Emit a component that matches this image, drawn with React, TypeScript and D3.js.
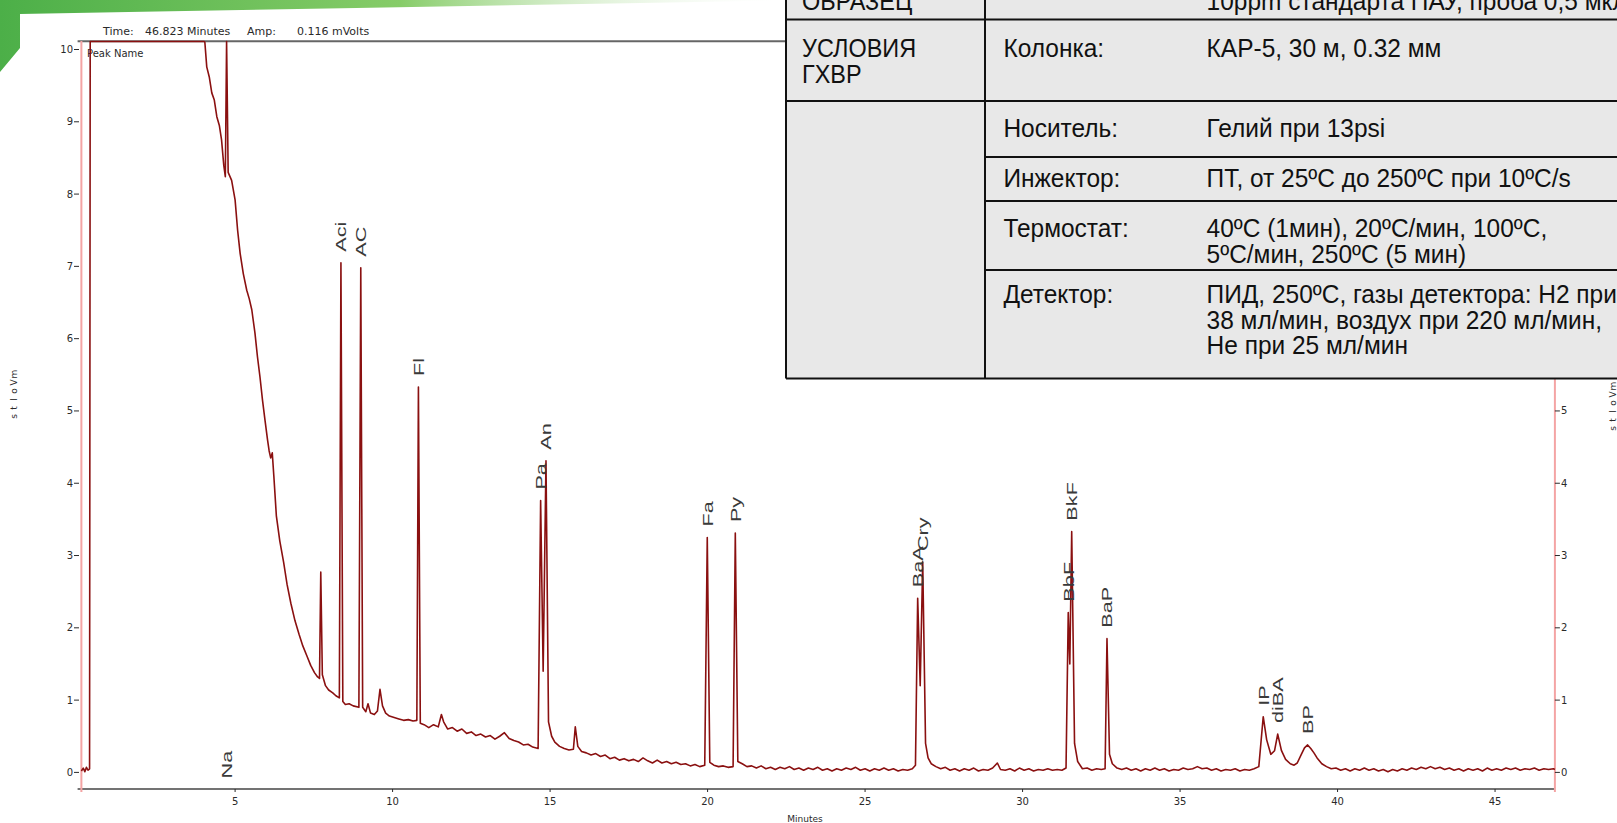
import React from 'react';
import * as d3 from 'd3';

const W = 1617;
const H = 823;

// labelled peaks (retention time in minutes, apex in mV); Na is off scale
const peakNames = ['Na', 'Aci', 'AC', 'Fl', 'Pa', 'An', 'Fa', 'Py', 'BaA', 'Cry', 'BbF', 'BkF', 'BaP', 'IP', 'diBA', 'BP'];
const peakTimes = [4.73, 8.36, 8.99, 10.82, 14.7, 14.87, 19.99, 20.88, 26.67, 26.83, 31.45, 31.56, 32.68, 37.64, 38.1, 39.05];
const peakHeights = [12, 7.05, 6.98, 5.33, 3.76, 4.31, 3.25, 3.31, 2.41, 2.91, 2.21, 3.33, 1.85, 0.77, 0.53, 0.38];

// detector trace between the labelled apexes [min, mV]
const baseline: [number, number][] = [
  [0.12, 0.02], [0.18, 0.06], [0.23, 0.01], [0.28, 0.07], [0.33, 0.03], [0.38, 0.05], [0.4, 12], [4.02, 12],
  [4.04, 10.1], [4.1, 9.76], [4.18, 9.62], [4.26, 9.4], [4.34, 9.3], [4.42, 9.07], [4.5, 8.95], [4.57, 8.75],
  [4.64, 8.4], [4.69, 8.24], [4.78, 8.3], [4.89, 8.19], [5.0, 7.92], [5.08, 7.5], [5.16, 7.18], [5.26, 6.9],
  [5.37, 6.67], [5.45, 6.55], [5.53, 6.4], [5.63, 6.08], [5.71, 5.75], [5.79, 5.47], [5.87, 5.15], [5.95, 4.87],
  [6.03, 4.6], [6.08, 4.45], [6.13, 4.35], [6.18, 4.42], [6.23, 4.1], [6.31, 3.55], [6.42, 3.2], [6.54, 2.91],
  [6.65, 2.6], [6.77, 2.34], [6.9, 2.1], [7.03, 1.91], [7.15, 1.75], [7.29, 1.6], [7.4, 1.48], [7.52, 1.38],
  [7.62, 1.32], [7.68, 1.3], [7.72, 2.77], [7.77, 1.35], [7.87, 1.2], [7.97, 1.14], [8.1, 1.1], [8.2, 1.06],
  [8.31, 1.03], [8.42, 0.98], [8.5, 0.94], [8.62, 0.95], [8.75, 0.92], [8.93, 0.9], [9.05, 0.9], [9.15, 0.84],
  [9.22, 0.95], [9.3, 0.82], [9.42, 0.8], [9.52, 0.85], [9.6, 1.15], [9.68, 0.92], [9.78, 0.82], [9.9, 0.78],
  [10.05, 0.76], [10.2, 0.74], [10.35, 0.72], [10.5, 0.73], [10.65, 0.71], [10.77, 0.72], [10.88, 0.68], [11.0, 0.66],
  [11.15, 0.62], [11.3, 0.66], [11.45, 0.63], [11.55, 0.8], [11.62, 0.7], [11.75, 0.6], [11.9, 0.62], [12.05, 0.57],
  [12.2, 0.6], [12.35, 0.54], [12.5, 0.56], [12.65, 0.51], [12.8, 0.53], [12.95, 0.49], [13.1, 0.51], [13.25, 0.46],
  [13.4, 0.5], [13.55, 0.55], [13.7, 0.47], [13.85, 0.44], [14.0, 0.42], [14.15, 0.38], [14.3, 0.39], [14.45, 0.35],
  [14.62, 0.33], [14.78, 1.4], [14.95, 0.7], [15.05, 0.5], [15.15, 0.42], [15.3, 0.36], [15.45, 0.33], [15.6, 0.31],
  [15.74, 0.32], [15.8, 0.63], [15.88, 0.36], [16.0, 0.29], [16.15, 0.27], [16.3, 0.24], [16.45, 0.26], [16.6, 0.22],
  [16.75, 0.24], [16.9, 0.19], [17.05, 0.21], [17.2, 0.17], [17.35, 0.19], [17.5, 0.16], [17.65, 0.18], [17.8, 0.15],
  [17.95, 0.2], [18.1, 0.16], [18.25, 0.13], [18.4, 0.17], [18.55, 0.13], [18.7, 0.15], [18.85, 0.12], [19.0, 0.14],
  [19.15, 0.11], [19.3, 0.12], [19.45, 0.09], [19.6, 0.11], [19.75, 0.08], [19.91, 0.1], [20.07, 0.14], [20.2, 0.1],
  [20.35, 0.08], [20.5, 0.09], [20.65, 0.07], [20.81, 0.08], [20.96, 0.15], [21.1, 0.12], [21.25, 0.08], [21.4, 0.09],
  [21.55, 0.06], [21.7, 0.09], [21.85, 0.05], [22.0, 0.07], [22.15, 0.04], [22.3, 0.07], [22.45, 0.05], [22.6, 0.08],
  [22.75, 0.04], [22.9, 0.06], [23.05, 0.03], [23.2, 0.06], [23.35, 0.04], [23.5, 0.07], [23.65, 0.03], [23.8, 0.05],
  [23.95, 0.02], [24.1, 0.05], [24.25, 0.03], [24.4, 0.06], [24.55, 0.04], [24.7, 0.07], [24.85, 0.03], [25.0, 0.05],
  [25.15, 0.02], [25.3, 0.05], [25.45, 0.03], [25.6, 0.06], [25.75, 0.03], [25.9, 0.05], [26.05, 0.02], [26.2, 0.04],
  [26.35, 0.03], [26.5, 0.05], [26.6, 0.1], [26.75, 1.2], [26.92, 0.4], [27.0, 0.2], [27.1, 0.12], [27.25, 0.08],
  [27.4, 0.05], [27.55, 0.07], [27.7, 0.03], [27.85, 0.05], [28.0, 0.02], [28.15, 0.05], [28.3, 0.03], [28.45, 0.06],
  [28.6, 0.02], [28.75, 0.04], [28.9, 0.03], [29.05, 0.06], [29.2, 0.13], [29.3, 0.04], [29.45, 0.03], [29.6, 0.05],
  [29.75, 0.02], [29.9, 0.06], [30.05, 0.03], [30.2, 0.05], [30.35, 0.02], [30.5, 0.04], [30.65, 0.03], [30.8, 0.05],
  [30.95, 0.03], [31.1, 0.04], [31.25, 0.03], [31.38, 0.06], [31.5, 1.5], [31.65, 0.4], [31.75, 0.15], [31.9, 0.05],
  [32.05, 0.06], [32.2, 0.03], [32.35, 0.05], [32.5, 0.04], [32.62, 0.05], [32.76, 0.25], [32.85, 0.12], [33.0, 0.06],
  [33.15, 0.04], [33.3, 0.06], [33.45, 0.03], [33.6, 0.05], [33.75, 0.02], [33.9, 0.05], [34.05, 0.03], [34.2, 0.06],
  [34.35, 0.03], [34.5, 0.05], [34.65, 0.02], [34.8, 0.04], [34.95, 0.03], [35.1, 0.06], [35.25, 0.04], [35.4, 0.05],
  [35.55, 0.08], [35.7, 0.05], [35.85, 0.06], [36.0, 0.03], [36.15, 0.05], [36.3, 0.02], [36.45, 0.04], [36.6, 0.03],
  [36.75, 0.05], [36.9, 0.02], [37.05, 0.04], [37.2, 0.03], [37.35, 0.05], [37.5, 0.08], [37.75, 0.45], [37.88, 0.25],
  [38.0, 0.3], [38.22, 0.3], [38.35, 0.18], [38.5, 0.12], [38.62, 0.1], [38.72, 0.13], [38.85, 0.25], [38.95, 0.34],
  [39.15, 0.33], [39.25, 0.27], [39.35, 0.2], [39.5, 0.12], [39.65, 0.08], [39.8, 0.05], [39.95, 0.06], [40.1, 0.03],
  [40.25, 0.05], [40.4, 0.02], [40.55, 0.05], [40.7, 0.03], [40.85, 0.06], [41.0, 0.03], [41.15, 0.05], [41.3, 0.02],
  [41.45, 0.04], [41.6, 0.01], [41.75, 0.04], [41.9, 0.02], [42.05, 0.05], [42.2, 0.03], [42.35, 0.06], [42.5, 0.04],
  [42.65, 0.07], [42.8, 0.05], [42.95, 0.08], [43.1, 0.05], [43.25, 0.07], [43.4, 0.04], [43.55, 0.06], [43.7, 0.03],
  [43.85, 0.05], [44.0, 0.02], [44.15, 0.05], [44.3, 0.03], [44.45, 0.05], [44.6, 0.02], [44.75, 0.06], [44.9, 0.03],
  [45.05, 0.05], [45.2, 0.03], [45.35, 0.06], [45.5, 0.04], [45.65, 0.06], [45.8, 0.03], [45.95, 0.05], [46.1, 0.04],
  [46.25, 0.06], [46.4, 0.03], [46.55, 0.05], [46.7, 0.04], [46.85, 0.05], [46.9, 0.04],
];

const xTicks = [5, 10, 15, 20, 25, 30, 35, 40, 45];
const yTicks = [0, 1, 2, 3, 4, 5, 6, 7, 8, 9, 10];
const windowStart = 0.12;
const windowEnd = 46.9;

// conditions table (slide overlay)
const tableCol1 = ['ОБРАЗЕЦ', 'УСЛОВИЯ\nГХВР', '', '', '', ''];
const tableCol2 = ['', 'Колонка:', 'Носитель:', 'Инжектор:', 'Термостат:', 'Детектор:'];
const tableCol3 = [
  '10ppm стандарта ПАУ, проба 0,5 мкл',
  'КАР-5, 30 м, 0.32 мм',
  'Гелий при 13psi',
  'ПТ, от 25ºC до 250ºC при 10ºC/s',
  '40ºC (1мин), 20ºC/мин, 100ºC,\n5ºC/мин, 250ºC (5 мин)',
  'ПИД, 250ºC, газы детектора: H2 при\n38 мл/мин, воздух при 220 мл/мин,\nНе при 25 мл/мин',
];

const TRACE = '#8a1010';
const PINK = '#f4a4a4';
const AX = '#2a2a2a';
const TF = '"Liberation Sans", Arial, sans-serif';
const SF = '"DejaVu Sans", Verdana, sans-serif';

export default function App() {
  const x = d3.scaleLinear().domain([0, 46.9]).range([77.6, 1554.9]);
  const y = d3.scaleLinear().domain([0, 10]).range([772.4, 49.5]);
  const yTop = y.invert(41.5);
  const yBottom = 789;

  const points: [number, number][] = baseline
    .concat(peakTimes.map((t, i) => [t, peakHeights[i]] as [number, number]))
    .sort((a, b) => a[0] - b[0]);

  const line = d3
    .line<[number, number]>()
    .x((d) => x(d[0]))
    .y((d) => y(Math.min(d[1], yTop)));

  // table geometry
  const tx0 = 786;
  const tx1 = 985;
  const rowLines = [19.6, 101, 157, 201, 270, 378.5];
  const rowBase = [10, 57, 137, 186.7, 237, 303];
  const lineGap = 25.5;
  const c1x = 802;
  const c2x = 1003.4;
  const c3x = 1206.6;

  const tableText = (s: string, tx: number, ty: number, key: string, sx: number) =>
    s.split('\n').map((ln, j) => (
      <text
        key={key + j}
        transform={`translate(${tx},${ty + j * lineGap}) scale(${sx},1)`}
        fontFamily={TF}
        fontSize={25.5}
        fill="#111"
      >
        {ln}
      </text>
    ));

  const title = 'mVolts'.split('');

  return (
    <div style={{ position: 'absolute', left: 0, top: 0, width: W, height: H, overflow: 'hidden' }}>
      <svg width={W} height={H} style={{ display: 'block' }}>
        <defs>
          <linearGradient id="swoosh" x1="0" x2="1" y1="0" y2="0">
            <stop offset="0" stopColor="#4caf48" />
            <stop offset="0.5" stopColor="#86cc68" />
            <stop offset="1" stopColor="#ffffff" stopOpacity="0" />
          </linearGradient>
        </defs>
        <rect width={W} height={H} fill="#fff" />
        <path d="M0,0 L800,0 Q420,7 20,14 L20,48 L0,72 Z" fill="url(#swoosh)" />

        {/* header */}
        <g fontFamily={SF} fontSize={11} fill={AX}>
          <text x={103} y={35}>Time:</text>
          <text x={145} y={35}>46.823 Minutes</text>
          <text x={247} y={35}>Amp:</text>
          <text x={297} y={35}>0.116 mVolts</text>
          <text x={87} y={57} fontSize={10}>Peak Name</text>
        </g>

        {/* frame */}
        <line x1={x(0)} x2={tx0} y1={41.2} y2={41.2} stroke="#666" strokeWidth={2} />
        <line x1={x(0)} x2={x(windowEnd)} y1={yBottom} y2={yBottom} stroke="#444" strokeWidth={1.5} />
        <line x1={x(windowStart)} x2={x(windowStart)} y1={41} y2={yBottom + 3} stroke={PINK} strokeWidth={2} />
        <line x1={x(windowEnd)} x2={x(windowEnd)} y1={41} y2={yBottom + 3} stroke={PINK} strokeWidth={2} />

        {/* y axes */}
        <g fontFamily={SF} fontSize={10} fill={AX}>
          {yTicks.map((v) => (
            <g key={'yl' + v}>
              <line x1={74} x2={79} y1={y(v)} y2={y(v)} stroke={AX} strokeWidth={1} />
              <text x={73} y={y(v) + 3.5} textAnchor="end">{v}</text>
              <line x1={x(windowEnd)} x2={x(windowEnd) + 5} y1={y(v)} y2={y(v)} stroke={AX} strokeWidth={1} />
              <text x={x(windowEnd) + 6} y={y(v) + 3.5}>{v}</text>
            </g>
          ))}
          {title.map((c, i) => (
            <text key={'tl' + i} transform={`translate(${17},${374 + i * 8.5}) rotate(-90)`} textAnchor="middle" fontSize={9}>
              {c}
            </text>
          ))}
          {title.map((c, i) => (
            <text key={'tr' + i} transform={`translate(${1616},${386 + i * 8.5}) rotate(-90)`} textAnchor="middle" fontSize={9}>
              {c}
            </text>
          ))}
        </g>

        {/* x axis */}
        <g fontFamily={SF} fontSize={10} fill={AX}>
          {xTicks.map((t) => (
            <g key={'xt' + t}>
              <line x1={x(t)} x2={x(t)} y1={yBottom} y2={yBottom + 3} stroke={AX} strokeWidth={1} />
              <text x={x(t)} y={805} textAnchor="middle">{t}</text>
            </g>
          ))}
          <text x={805} y={822} textAnchor="middle" fontSize={9}>Minutes</text>
        </g>

        {/* trace */}
        <path d={line(points) || ''} fill="none" stroke={TRACE} strokeWidth={1.6} strokeLinejoin="round" />

        {/* peak labels */}
        <g fontFamily={TF} fontSize={15.5} fill="#3a3a3a">
          {peakNames.map((n, i) => {
            const px = x(peakTimes[i]) + 5.5;
            const py = peakHeights[i] > yTop ? y(0) + 6 : y(peakHeights[i]) - 11;
            return (
              <text key={'pk' + n} transform={`translate(${px},${py}) rotate(-90) scale(1.4,1)`}>
                {n}
              </text>
            );
          })}
        </g>

        {/* conditions table */}
        <g>
          <rect x={tx0} y={-2} width={W - tx0 + 4} height={rowLines[5] + 2} fill="#e8e8e8" />
          {tableCol1.map((s, i) => tableText(s, c1x, rowBase[i], 'a' + i, 0.92))}
          {tableCol2.map((s, i) => tableText(s, c2x, rowBase[i], 'b' + i, 0.96))}
          {tableCol3.map((s, i) => tableText(s, c3x, rowBase[i], 'c' + i, 0.96))}
          <g stroke="#111" strokeWidth={2}>
            <line x1={tx0} x2={tx0} y1={0} y2={rowLines[5]} />
            <line x1={tx1} x2={tx1} y1={0} y2={rowLines[5]} />
            <line x1={tx0} x2={W} y1={rowLines[0]} y2={rowLines[0]} />
            <line x1={tx0} x2={W} y1={rowLines[1]} y2={rowLines[1]} />
            <line x1={tx1} x2={W} y1={rowLines[2]} y2={rowLines[2]} />
            <line x1={tx1} x2={W} y1={rowLines[3]} y2={rowLines[3]} />
            <line x1={tx1} x2={W} y1={rowLines[4]} y2={rowLines[4]} />
            <line x1={tx0} x2={W} y1={rowLines[5]} y2={rowLines[5]} />
          </g>
        </g>
      </svg>
    </div>
  );
}
